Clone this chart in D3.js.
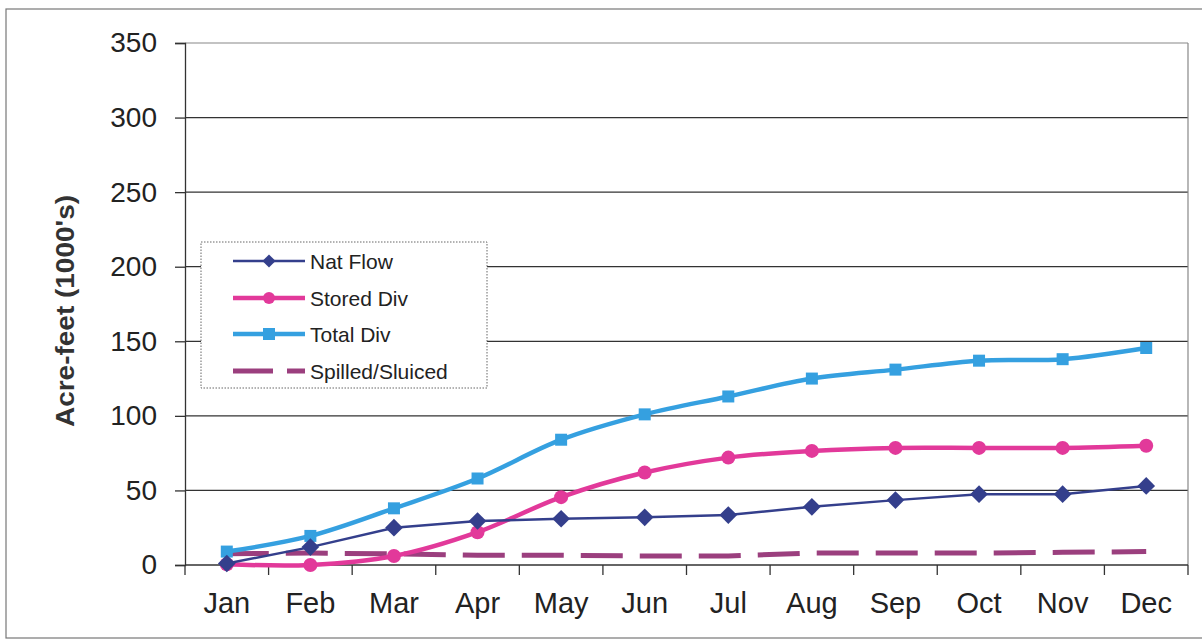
<!DOCTYPE html>
<html>
<head>
<meta charset="utf-8">
<script src="https://cdn.jsdelivr.net/npm/d3@7"></script>
<style>
  body { margin: 0; background: #fff; }
  svg { display: block; font-family: "Liberation Sans", Arial, sans-serif; }
</style>
</head>
<body>
<div id="chart"></div>
<script>
var months = ["Jan", "Feb", "Mar", "Apr", "May", "Jun", "Jul", "Aug", "Sep", "Oct", "Nov", "Dec"];
var yTicks = [0, 50, 100, 150, 200, 250, 300, 350];

var natFlow   = [1, 12, 25, 29.5, 31, 32, 33.5, 39, 43.5, 47.5, 47.5, 53];
var storedDiv = [0.5, 0, 6, 22, 45.5, 62, 72, 76.5, 78.5, 78.5, 78.5, 80];
var totalDiv  = [9, 19.5, 38, 58, 84, 101, 113, 125, 131, 137, 138, 145.5];
var spilled   = [7.5, 8, 7.5, 6.5, 6.5, 6, 6, 8, 8, 8, 8.5, 9];

var seriesNames = ["Nat Flow", "Stored Div", "Total Div", "Spilled/Sluiced"];

var w = 1202, h = 643;
var padL = 185, padR = 1188, padT = 43, padB = 565;

var svg = d3.select("#chart").append("svg")
  .attr("width", w)
  .attr("height", h);

// outer frame
svg.append("rect")
  .attr("x", 6).attr("y", 9)
  .attr("width", 1220).attr("height", 629)
  .attr("fill", "none")
  .attr("stroke", "#777")
  .attr("stroke-width", 1.2);

var x = d3.scaleBand()
  .domain(months)
  .range([padL, padR]);

var y = d3.scaleLinear()
  .domain([0, 350])
  .range([padB, padT]);

function cx(i) { return x(months[i]) + x.bandwidth() / 2; }

// grid lines
svg.append("g")
  .selectAll("line")
  .data(yTicks.slice(1))
  .enter()
  .append("line")
  .attr("x1", padL).attr("x2", padR)
  .attr("y1", function(d) { return y(d); })
  .attr("y2", function(d) { return y(d); })
  .attr("stroke", function(d) { return d == 350 ? "#888" : "#333"; })
  .attr("stroke-width", 1.2);

// plot right edge
svg.append("line")
  .attr("x1", padR).attr("x2", padR)
  .attr("y1", padT).attr("y2", padB)
  .attr("stroke", "#888")
  .attr("stroke-width", 1.2);

var yAxis = d3.axisLeft(y)
  .tickValues(yTicks)
  .tickSize(10)
  .tickPadding(18);

var yG = svg.append("g")
  .attr("transform", "translate(" + padL + ",0)")
  .call(yAxis);
yG.select(".domain").attr("stroke", "#333").attr("stroke-width", 1.3);
yG.selectAll(".tick line").attr("stroke", "#333").attr("stroke-width", 1.3);
yG.selectAll("text")
  .attr("font-size", 28)
  .attr("font-family", "Liberation Sans, Arial, sans-serif")
  .attr("fill", "#222");

// x axis: ticks sit between categories
var xG = svg.append("g")
  .attr("transform", "translate(0," + padB + ")");
xG.append("line")
  .attr("x1", padL).attr("x2", padR)
  .attr("stroke", "#333").attr("stroke-width", 1.3);
xG.selectAll(".tk")
  .data(d3.range(months.length + 1))
  .enter()
  .append("line")
  .attr("class", "tk")
  .attr("x1", function(i) { return padL + i * x.bandwidth(); })
  .attr("x2", function(i) { return padL + i * x.bandwidth(); })
  .attr("y1", 0).attr("y2", 10)
  .attr("stroke", "#333").attr("stroke-width", 1.3);
xG.selectAll("text")
  .data(months)
  .enter()
  .append("text")
  .attr("x", function(d) { return x(d) + x.bandwidth() / 2; })
  .attr("y", 48)
  .attr("text-anchor", "middle")
  .attr("font-size", 29)
  .attr("fill", "#222")
  .text(function(d) { return d; });

// y title
svg.append("text")
  .attr("transform", "translate(74,311) rotate(-90)")
  .attr("text-anchor", "middle")
  .attr("font-size", 25)
  .attr("font-weight", "bold")
  .attr("fill", "#333")
  .attr("textLength", 232)
  .attr("lengthAdjust", "spacingAndGlyphs")
  .text("Acre-feet (1000's)");

var smooth = d3.line()
  .x(function(d, i) { return cx(i); })
  .y(function(d) { return y(d); })
  .curve(d3.curveCardinal.tension(0));

var straight = d3.line()
  .x(function(d, i) { return cx(i); })
  .y(function(d) { return y(d); });

// spilled/sluiced dashed
svg.append("path")
  .attr("d", straight(spilled))
  .attr("fill", "none")
  .attr("stroke", "#9b3f7e")
  .attr("stroke-width", 5)
  .attr("stroke-dasharray", "42,17");

// total div
svg.append("path")
  .attr("d", smooth(totalDiv))
  .attr("fill", "none")
  .attr("stroke", "#35a0e0")
  .attr("stroke-width", 4.5);
svg.append("g").selectAll("rect")
  .data(totalDiv)
  .enter()
  .append("rect")
  .attr("x", function(d, i) { return cx(i) - 6; })
  .attr("y", function(d) { return y(d) - 6; })
  .attr("width", 12).attr("height", 12)
  .attr("fill", "#35a0e0");

// stored div
svg.append("path")
  .attr("d", smooth(storedDiv))
  .attr("fill", "none")
  .attr("stroke", "#e2399a")
  .attr("stroke-width", 4.5);
svg.append("g").selectAll("circle")
  .data(storedDiv)
  .enter()
  .append("circle")
  .attr("cx", function(d, i) { return cx(i); })
  .attr("cy", function(d) { return y(d); })
  .attr("r", 7)
  .attr("fill", "#e2399a");

// nat flow
svg.append("path")
  .attr("d", straight(natFlow))
  .attr("fill", "none")
  .attr("stroke", "#343f8c")
  .attr("stroke-width", 2.5);
svg.append("g").selectAll("path.dm")
  .data(natFlow)
  .enter()
  .append("path")
  .attr("class", "dm")
  .attr("d", d3.symbol().type(d3.symbolDiamond2).size(200))
  .attr("transform", function(d, i) { return "translate(" + cx(i) + "," + y(d) + ")"; })
  .attr("fill", "#343f8c");

// legend
var lg = svg.append("g").attr("transform", "translate(201,242)");
lg.append("rect")
  .attr("width", 286).attr("height", 146)
  .attr("fill", "#fff")
  .attr("stroke", "#666")
  .attr("stroke-width", 1)
  .attr("stroke-dasharray", "1.5,1.5");

var colors = ["#343f8c", "#e2399a", "#35a0e0", "#9b3f7e"];
var rowY = [19, 56, 92, 129];

seriesNames.forEach(function(name, i) {
  var row = lg.append("g").attr("transform", "translate(0," + rowY[i] + ")");
  var ln = row.append("line")
    .attr("x1", 32).attr("x2", 104)
    .attr("stroke", colors[i]);
  if (i == 0) ln.attr("stroke-width", 2.5);
  else if (i == 3) ln.attr("stroke-width", 5).attr("stroke-dasharray", "40,14");
  else ln.attr("stroke-width", 4.5);
  if (i == 0) {
    row.append("path")
      .attr("d", d3.symbol().type(d3.symbolDiamond2).size(110))
      .attr("transform", "translate(68,0)")
      .attr("fill", colors[i]);
  } else if (i == 1) {
    row.append("circle").attr("cx", 68).attr("r", 6).attr("fill", colors[i]);
  } else if (i == 2) {
    row.append("rect").attr("x", 62).attr("y", -6).attr("width", 12).attr("height", 12).attr("fill", colors[i]);
  }
  row.append("text")
    .attr("x", 109)
    .attr("y", 7.5)
    .attr("font-size", 21)
    .attr("fill", "#222")
    .text(name);
});
</script>
</body>
</html>
